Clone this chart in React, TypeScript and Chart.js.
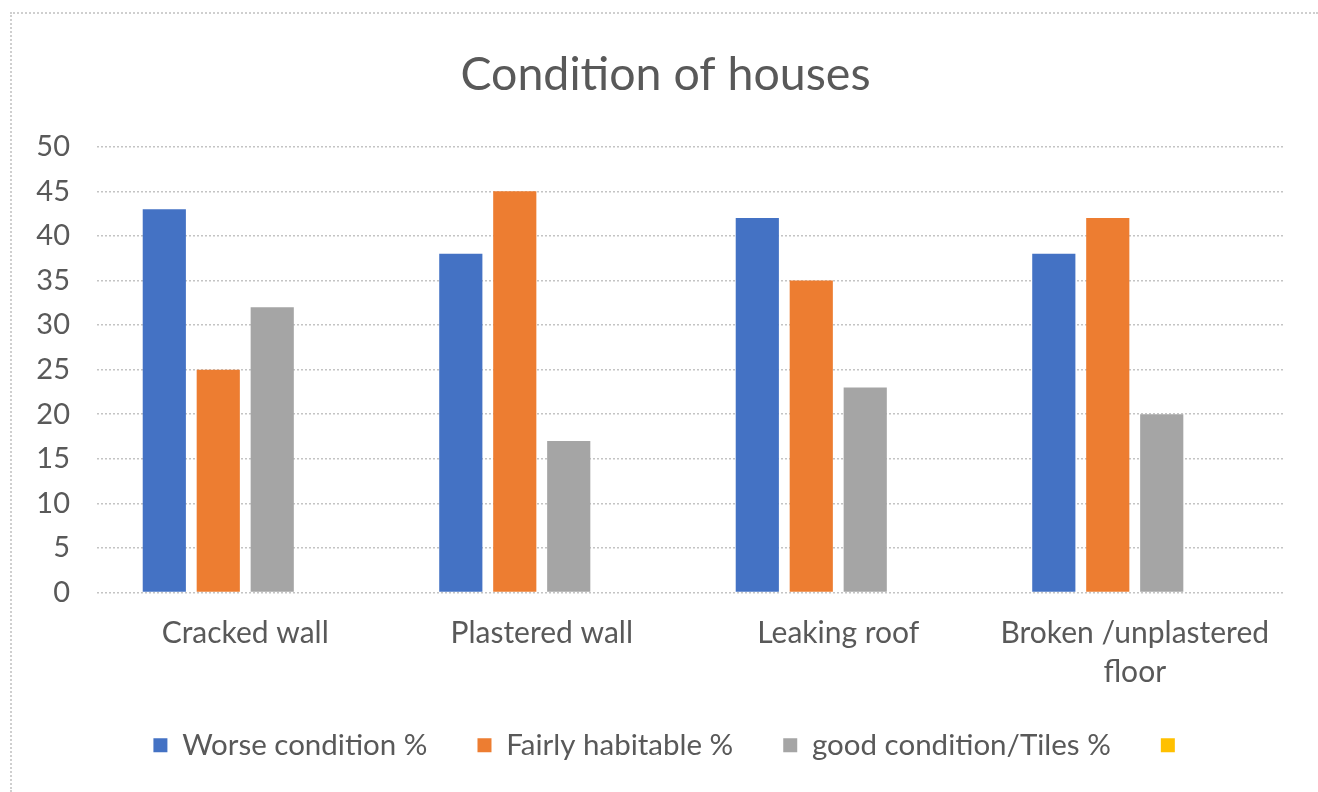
import React, { useEffect, useRef } from "react";
import { Chart, registerables } from "chart.js";

Chart.register(...registerables);

const categories: (string | string[])[] = [
  "Cracked wall",
  "Plastered wall",
  "Leaking roof",
  ["Broken /unplastered", "floor"],
];
const seriesNames = ["Worse condition %", "Fairly habitable %", "good condition/Tiles %", ""];
const worseCondition = [43, 38, 42, 38];
const fairlyHabitable = [25, 45, 35, 42];
const goodCondition = [32, 17, 23, 20];
const emptySeries: (number | null)[] = [null, null, null, null];
const yTicks = [0, 5, 10, 15, 20, 25, 30, 35, 40, 45, 50];
const colors = ["#4472C4", "#ED7D31", "#A5A5A5", "#FFC000"];

const FONT = "Lato, 'Open Sans', sans-serif";
const TEXT = "#595959";

const layoutTweaks = {
  id: "layoutTweaks",
  afterLayout(chart: any) {
    const x = chart.scales.x;
    const y = chart.scales.y;
    if (x) x.bottom = chart.height; // let second line of labels draw unclipped
    if (y) y.left = 0;
    if (chart.titleBlock) {
      chart.titleBlock.left += 24;
      chart.titleBlock.right += 24;
    }
    if (chart.legend) {
      chart.legend.left += 30;
      chart.legend.right += 30;
    }
  },
};

export default function App() {
  const ref = useRef<HTMLCanvasElement | null>(null);
  useEffect(() => {
    if (!ref.current) return;
    const series = [worseCondition, fairlyHabitable, goodCondition, emptySeries];
    const chart = new Chart(ref.current, {
      type: "bar",
      data: {
        labels: categories,
        datasets: series.map((d, i) => ({
          label: seriesNames[i],
          data: d,
          backgroundColor: colors[i],
          borderWidth: 0,
          categoryPercentage: 0.728,
          barPercentage: 0.8,
        })),
      },
      options: {
        animation: false,
        responsive: false,
        maintainAspectRatio: false,
        layout: { padding: { left: 0, right: 35, top: 0, bottom: 22 } },
        plugins: {
          tooltip: { enabled: false },
          title: {
            display: true,
            text: "Condition of houses",
            color: TEXT,
            font: { family: FONT, size: 46.5, weight: "normal", lineHeight: 1.2 },
            padding: { top: 47, bottom: 44 },
          },
          legend: {
            position: "bottom",
            labels: {
              boxWidth: 14,
              boxHeight: 14,
              color: TEXT,
              padding: 50,
              font: { family: FONT, size: 29.5 },
            },
          },
        },
        scales: {
          x: {
            afterFit: (s: any) => {
              s.height = 88;
            },
            grid: { display: false, drawTicks: false },
            border: { display: false },
            ticks: {
              color: TEXT,
              padding: 21,
              maxRotation: 0,
              autoSkip: false,
              font: { family: FONT, size: 30, lineHeight: 1.3 },
            },
          },
          y: {
            min: 0,
            max: 50,
            afterFit: (s: any) => {
              s.width = 97;
            },
            afterBuildTicks: (s: any) => {
              s.ticks = yTicks.map((v) => ({ value: v }));
            },
            grid: {
              color: "#c4c4c4",
              lineWidth: 1.5,
              drawTicks: false,
            },
            border: { display: false, dash: [2, 2] },
            ticks: {
              color: TEXT,
              padding: 27,
              font: { family: FONT, size: 29 },
            },
          },
        },
      },
      plugins: [layoutTweaks],
    });
    return () => chart.destroy();
  }, []);
  return (
    <div style={{ position: "fixed", left: 0, top: 0, width: 1318, height: 792, background: "#fff" }}>
      <div
        style={{
          position: "absolute",
          left: 10,
          top: 12,
          right: 0,
          bottom: 0,
          borderTop: "2px dotted #cfcfcf",
          borderLeft: "2px dotted #cfcfcf",
        }}
      />
      <canvas ref={ref} width={1318} height={792} style={{ position: "absolute", left: 0, top: 0 }} />
    </div>
  );
}
